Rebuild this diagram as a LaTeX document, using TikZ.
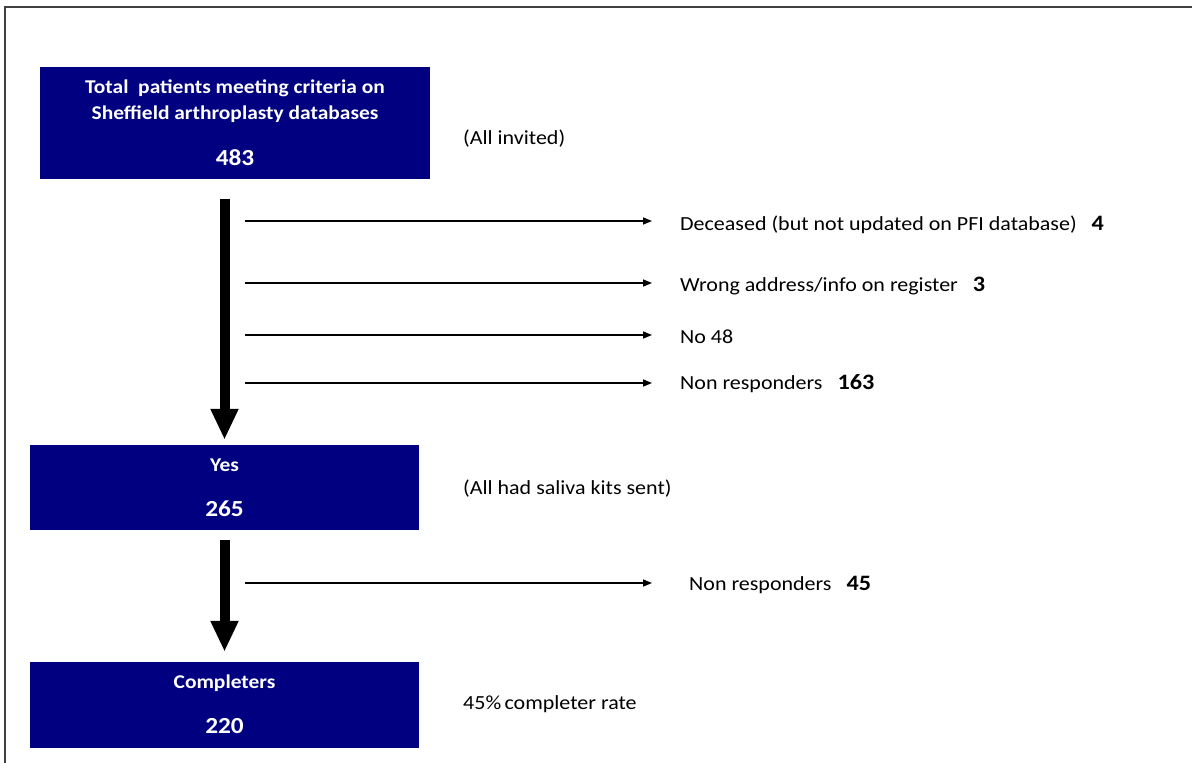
\documentclass[tikz,border=0pt]{standalone}
\usepackage{fontspec}
\setmainfont{Carlito}[FakeStretch=1.1]
\usetikzlibrary{arrows.meta}
\definecolor{navybox}{RGB}{0,0,128}
\begin{document}
\begin{tikzpicture}[x=1pt,y=-1pt,
  box/.style={fill=navybox, draw=none, inner sep=0pt},
  boxtext/.style={text=white, font=\fontsize{19.5}{22}\selectfont\bfseries, inner sep=0pt},
  boxnum/.style={text=white, font=\fontsize{23}{26}\selectfont\bfseries, inner sep=0pt},
  lbl/.style={anchor=west, inner sep=0pt, font=\fontsize{20}{24}\selectfont},
  bigarrow/.style={line width=10pt, -{Triangle[length=31pt,width=26pt]}},
  thinarrow/.style={line width=1.5pt, -{Triangle[length=9pt,width=7pt]}},
  frame/.style={line width=2pt, draw=black!75}
]
\newcommand{\bignum}[1]{{\fontsize{22}{24}\selectfont\bfseries #1}}
\useasboundingbox (0,0) rectangle (1192,763);
\draw[frame] (5,770) -- (5,7) -- (1200,7);

% boxes
\node[box, minimum width=390pt, minimum height=112pt] (b1) at (235,123) {};
\node[box, minimum width=389pt, minimum height=85pt] (b2) at (224.5,487.5) {};
\node[box, minimum width=389pt, minimum height=86pt] (b3) at (224.5,705) {};

\node[boxtext] (t1a) at (235,88) {Total\ \ patients meeting criteria on};
\node[boxtext] (t1b) at (235,114) {Sheffield arthroplasty databases};
\node[boxnum] (t1c) at (235,158) {483};
\node[boxtext] (t2a) at (224.5,465) {Yes};
\node[boxnum] (t2b) at (224.5,509) {265};
\node[boxtext] (t3a) at (224.5,683) {Completers};
\node[boxnum] (t3b) at (224.5,726) {220};

% side notes
\node[lbl] (n1) at (463,139) {(All invited)};
\node[lbl] (n2) at (463,489) {(All had saliva kits sent)};
\node[lbl] (n3) at (463,704) {45\%\,completer rate};

% big arrows
\draw[bigarrow, shorten <=20pt, shorten >=5pt] (b2.north |- b1.south) -- (b2.north);
\draw[bigarrow, shorten <=10pt, shorten >=10pt] (b2.south) -- (b3.north);

% exclusion labels
\node[lbl] (e1) at (680,225) {Deceased (but not updated on PFI database)\ \ \ \bignum{4}};
\node[lbl] (e2) at (680,286) {Wrong address/info on register\ \ \ \bignum{3}};
\node[lbl] (e3) at (680,337) {No 48};
\node[lbl] (e4) at (680,384) {Non responders\ \ \ \bignum{163}};
\node[lbl] (e5) at (689,585) {Non responders\ \ \ \bignum{45}};

% thin arrow start points
\coordinate (s1) at (245,221);
\coordinate (s2) at (245,283);
\coordinate (s3) at (245,335);
\coordinate (s4) at (245,383);
\coordinate (s5) at (245,583);

\draw[thinarrow, shorten >=28pt] (s1) -- (s1 -| e1.west);
\draw[thinarrow, shorten >=28pt] (s2) -- (s2 -| e2.west);
\draw[thinarrow, shorten >=28pt] (s3) -- (s3 -| e3.west);
\draw[thinarrow, shorten >=28pt] (s4) -- (s4 -| e4.west);
\draw[thinarrow, shorten >=37pt] (s5) -- (s5 -| e5.west);
\end{tikzpicture}
\end{document}
